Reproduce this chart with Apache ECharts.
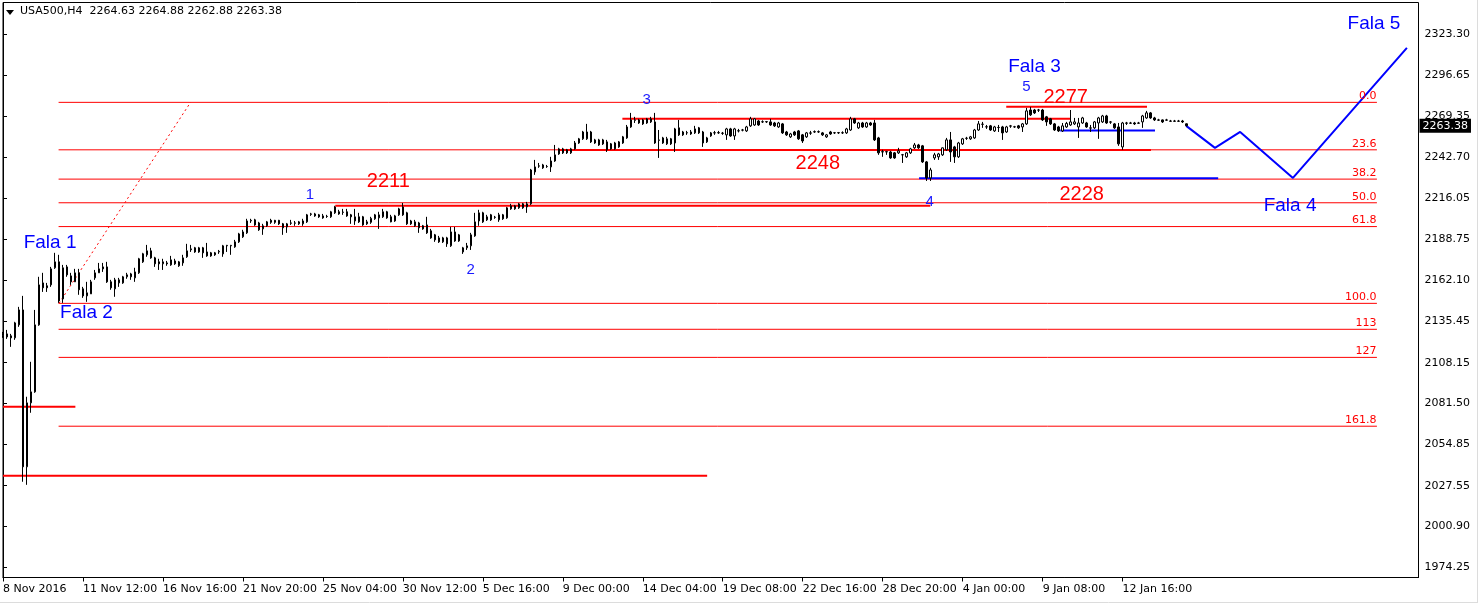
<!DOCTYPE html>
<html><head><meta charset="utf-8">
<script src="https://cdn.jsdelivr.net/npm/echarts@6/dist/echarts.min.js"></script>
<style>html,body{margin:0;padding:0;background:#fff}#c{width:1479px;height:604px}</style>
</head><body><div id="c"></div>
<script>
// ---------- DATA ----------
const symbolName = 'USA500,H4';
const headerValues = ['2264.63', '2264.88', '2262.88', '2263.38'];
const lastPrice = 2263.38;

const xTickLabels = ['8 Nov 2016','11 Nov 12:00','16 Nov 16:00','21 Nov 20:00','25 Nov 04:00','30 Nov 12:00','5 Dec 16:00','9 Dec 00:00','14 Dec 04:00','19 Dec 08:00','22 Dec 16:00','28 Dec 20:00','4 Jan 00:00','9 Jan 08:00','12 Jan 16:00'];
const yTickValues = [2323.30, 2296.65, 2269.35, 2242.70, 2216.05, 2188.75, 2162.10, 2135.45, 2108.15, 2081.50, 2054.85, 2027.55, 2000.90, 1974.25];

// H4 candles: [open, close, low, high]
const candles = [
[2125.7,2127.0,2124.4,2128.3],[2127.0,2125.0,2123.7,2129.6],[2125.7,2124.4,2118.5,2127.0],[2124.4,2134.2,2123.1,2134.9],[2132.9,2142.7,2131.6,2144.7],
[2142.7,2039.9,2030.1,2151.9],[2039.9,2081.8,2028.1,2085.8],[2081.8,2089.0,2075.3,2108.7],[2089.0,2132.9,2088.4,2142.7],[2132.9,2159.1,2132.3,2164.4],
[2160.4,2157.2,2154.5,2167.0],[2158.5,2157.2,2154.5,2160.4],[2159.1,2169.6,2157.8,2170.9],[2170.3,2174.2,2169.6,2180.1],[2174.2,2148.6,2147.3,2178.8],
[2149.9,2170.3,2147.3,2172.2],[2170.9,2165.7,2164.4,2172.2],[2165.0,2161.1,2159.1,2167.0],[2161.1,2167.0,2161.1,2169.6],[2167.0,2155.9,2152.6,2169.6],
[2156.5,2151.9,2150.6,2157.8],[2151.9,2153.9,2148.0,2161.1],[2153.2,2161.1,2153.2,2162.4],[2163.7,2167.0,2162.4,2168.9],[2167.0,2169.6,2167.0,2173.5],
[2170.9,2169.6,2167.6,2173.5],[2170.9,2161.1,2160.4,2174.2],[2161.1,2157.2,2155.9,2162.4],[2156.5,2162.4,2151.3,2163.7],[2160.4,2162.4,2157.8,2163.7],
[2160.4,2164.4,2159.8,2165.0],[2164.4,2165.7,2163.1,2167.0],[2166.3,2164.4,2162.4,2167.0],[2163.7,2167.6,2161.1,2170.3],[2167.0,2176.2,2166.3,2176.8],
[2174.2,2179.5,2173.5,2180.1],[2178.8,2181.4,2177.5,2185.3],[2181.4,2176.8,2176.2,2183.4],[2176.8,2172.9,2170.9,2177.5],[2174.2,2172.9,2168.9,2176.2],
[2172.9,2174.2,2168.9,2176.2],[2173.5,2172.9,2171.6,2174.8],[2172.2,2175.5,2171.6,2178.1],[2174.8,2172.9,2172.2,2176.2],[2171.6,2174.2,2170.9,2174.8],
[2173.5,2176.8,2171.6,2178.8],[2177.5,2181.4,2176.8,2186.0],[2182.1,2182.7,2180.7,2185.3],[2183.4,2180.7,2180.1,2184.0],[2180.7,2183.4,2180.1,2184.0],
[2183.4,2180.1,2176.8,2184.0],[2180.7,2178.1,2177.5,2186.6],[2180.1,2178.1,2177.5,2180.7],[2180.1,2178.8,2178.1,2180.7],[2180.7,2181.1,2179.4,2182.0],
[2179.4,2184.7,2177.5,2185.3],[2184.7,2185.0,2180.7,2185.3],[2184.7,2185.0,2178.8,2185.3],[2184.0,2187.3,2183.4,2188.6],[2187.3,2192.5,2186.6,2193.2],
[2190.6,2193.8,2189.9,2195.2],[2193.2,2201.0,2192.5,2202.4],[2201.0,2201.4,2199.7,2202.4],[2201.7,2198.4,2197.8,2202.4],[2199.7,2195.2,2194.5,2200.4],
[2195.8,2197.8,2191.9,2199.1],[2197.8,2200.4,2197.1,2201.0],[2201.4,2200.1,2199.1,2202.4],[2201.4,2200.1,2199.1,2201.7],[2201.4,2199.1,2198.4,2201.7],
[2199.1,2196.5,2191.9,2199.7],[2197.1,2199.1,2193.2,2199.7],[2199.7,2199.5,2198.4,2201.7],[2199.5,2199.7,2197.8,2201.0],[2199.1,2200.4,2198.4,2201.0],
[2199.1,2201.0,2197.8,2202.4],[2200.4,2205.0,2199.7,2205.6],[2205.3,2205.6,2204.3,2206.3],[2205.6,2204.3,2203.7,2206.3],[2205.0,2203.7,2203.0,2205.6],
[2204.3,2203.0,2202.4,2205.6],[2204.0,2203.9,2203.0,2205.0],[2203.7,2207.0,2203.0,2207.6],[2206.3,2210.2,2205.6,2210.9],[2207.0,2205.6,2205.0,2208.3],
[2206.6,2206.8,2205.0,2208.9],[2207.0,2204.3,2203.7,2208.9],[2205.0,2203.7,2199.1,2205.6],[2201.0,2203.7,2198.4,2208.9],[2203.7,2200.4,2199.7,2206.3],
[2203.7,2198.4,2197.8,2204.3],[2199.1,2200.4,2198.4,2201.7],[2200.1,2202.7,2199.1,2203.7],[2202.4,2205.0,2201.7,2205.6],[2203.0,2205.0,2195.8,2207.0],
[2203.7,2207.0,2203.0,2208.9],[2207.0,2203.0,2202.4,2207.6],[2203.7,2200.4,2200.1,2205.0],[2201.0,2204.3,2200.4,2205.0],[2205.0,2208.9,2204.3,2209.6],
[2210.2,2205.0,2204.3,2212.8],[2206.3,2199.1,2198.4,2207.0],[2201.0,2199.1,2198.4,2201.7],[2197.8,2200.4,2197.1,2201.7],[2199.7,2196.5,2193.2,2200.4],
[2197.8,2195.8,2195.2,2198.4],[2198.4,2193.2,2192.5,2203.7],[2194.5,2189.9,2189.3,2195.8],[2191.9,2188.6,2187.3,2192.5],[2189.9,2187.3,2186.6,2191.2],
[2187.3,2189.9,2186.6,2190.6],[2189.9,2186.0,2184.0,2190.6],[2184.7,2193.8,2184.0,2197.1],[2193.8,2187.9,2187.3,2197.1],[2187.9,2191.9,2187.3,2192.5],
[2180.7,2183.4,2179.4,2184.0],[2183.4,2184.7,2182.0,2186.6],[2184.7,2191.9,2182.0,2193.2],[2191.2,2200.4,2190.6,2206.3],[2201.0,2206.3,2197.8,2208.3],
[2206.3,2200.4,2199.7,2207.0],[2201.7,2203.7,2201.0,2205.0],[2205.0,2201.7,2201.0,2205.6],[2203.3,2203.5,2202.4,2204.3],[2201.7,2205.0,2200.4,2206.3],
[2205.0,2202.4,2201.7,2205.6],[2203.0,2209.6,2202.4,2210.2],[2208.9,2210.9,2208.3,2212.2],[2208.9,2210.9,2208.3,2211.5],[2209.6,2212.2,2208.9,2212.8],
[2212.2,2209.6,2208.9,2212.8],[2210.2,2212.2,2206.3,2213.5],[2212.2,2234.4,2211.5,2235.1],[2233.1,2236.4,2231.2,2241.0],[2236.9,2237.1,2235.8,2239.0],
[2237.7,2235.8,2235.1,2238.4],[2236.6,2236.7,2235.8,2237.7],[2236.4,2240.3,2233.1,2243.0],[2240.3,2244.3,2239.7,2250.8],[2244.9,2248.2,2244.3,2248.9],
[2248.2,2245.6,2244.9,2248.9],[2247.6,2245.6,2244.9,2248.2],[2245.6,2248.2,2244.9,2248.9],[2248.2,2252.1,2247.6,2253.4],[2252.1,2254.8,2251.5,2255.4],
[2254.8,2259.3,2254.1,2260.0],[2254.8,2259.3,2254.1,2264.6],[2259.3,2252.8,2252.1,2260.0],[2254.1,2252.1,2251.5,2254.8],[2250.8,2254.1,2250.2,2254.8],
[2254.1,2251.5,2250.8,2254.8],[2252.8,2247.6,2246.2,2254.1],[2251.5,2248.2,2247.6,2252.1],[2248.2,2252.1,2247.6,2252.8],[2249.5,2252.8,2248.9,2253.4],
[2252.1,2256.1,2251.5,2256.7],[2255.4,2262.6,2254.8,2263.9],[2262.6,2267.2,2262.0,2271.8],[2266.9,2267.2,2265.2,2269.2],[2267.2,2265.2,2264.6,2267.9],
[2267.2,2264.6,2263.9,2267.9],[2265.2,2267.9,2264.6,2268.5],[2265.9,2267.9,2265.2,2269.2],[2265.9,2252.1,2251.5,2271.8],[2254.1,2253.8,2242.3,2260.6],
[2252.1,2255.4,2251.5,2256.1],[2251.5,2254.8,2250.8,2256.1],[2254.8,2251.5,2250.8,2255.4],[2252.1,2261.3,2246.2,2262.0],[2262.0,2257.4,2256.7,2267.2],
[2259.3,2257.4,2256.7,2260.0],[2258.8,2258.7,2257.4,2260.0],[2259.3,2258.0,2257.4,2260.6],[2258.7,2261.3,2258.0,2263.3],[2262.0,2258.7,2258.0,2262.6],
[2259.3,2252.1,2249.5,2260.0],[2252.8,2255.4,2252.1,2256.1],[2256.7,2258.7,2256.1,2259.3],[2258.7,2258.8,2257.4,2260.0],[2258.7,2258.9,2258.0,2260.0],
[2258.4,2258.5,2257.4,2259.3],[2257.4,2261.3,2254.1,2262.0],[2261.3,2256.7,2256.1,2262.0],[2256.7,2261.3,2254.1,2262.0],[2260.0,2260.1,2259.0,2261.3],
[2260.5,2260.6,2259.7,2261.3],[2260.0,2262.6,2259.3,2263.3],[2263.3,2267.9,2262.6,2269.2],[2263.9,2267.9,2263.3,2268.5],[2266.5,2263.9,2263.3,2267.2],
[2265.9,2266.0,2265.2,2266.9],[2265.9,2266.1,2265.2,2266.5],[2265.9,2263.9,2263.3,2267.9],[2265.2,2263.3,2262.6,2265.9],[2262.6,2265.2,2262.0,2265.9],
[2264.6,2258.7,2258.0,2265.2],[2259.3,2257.4,2256.7,2260.0],[2256.1,2258.0,2255.4,2258.7],[2259.3,2257.4,2256.7,2260.0],[2260.0,2254.8,2254.1,2260.6],
[2257.4,2253.4,2252.1,2258.0],[2256.1,2258.7,2255.4,2259.3],[2258.5,2258.7,2257.4,2260.0],[2259.3,2259.5,2258.7,2260.3],[2259.3,2259.5,2258.7,2260.3],
[2258.7,2257.4,2256.7,2259.3],[2256.1,2257.4,2255.4,2258.0],[2259.3,2258.0,2257.4,2260.0],[2258.7,2258.8,2258.0,2259.3],[2258.7,2258.9,2258.0,2259.3],
[2258.7,2258.8,2258.0,2259.7],[2258.7,2261.3,2258.0,2262.0],[2260.6,2267.9,2260.0,2269.2],[2267.9,2265.2,2264.6,2268.5],[2262.0,2265.2,2261.3,2265.9],
[2265.2,2262.6,2262.0,2265.9],[2262.6,2265.2,2262.0,2265.9],[2265.2,2263.9,2263.3,2265.9],[2265.2,2254.1,2253.4,2267.2],[2255.4,2245.6,2244.3,2256.1],
[2246.2,2246.4,2243.0,2247.6],[2246.2,2246.4,2244.3,2246.9],[2246.2,2242.3,2241.7,2246.9],[2245.6,2242.3,2241.7,2246.2],[2245.6,2246.9,2244.9,2248.9],
[2244.3,2244.4,2239.0,2244.9],[2243.0,2245.6,2242.3,2246.2],[2245.6,2248.2,2244.9,2248.9],[2248.9,2250.8,2248.2,2252.1],[2250.8,2248.9,2248.2,2251.5],
[2250.2,2239.7,2239.0,2250.8],[2239.7,2229.2,2227.2,2240.3],[2229.2,2234.4,2227.2,2235.8],[2242.3,2244.3,2241.0,2245.6],[2243.0,2244.9,2241.0,2245.6],
[2244.3,2248.9,2243.6,2249.1],[2247.6,2254.1,2246.9,2255.4],[2254.1,2246.2,2239.7,2259.3],[2249.5,2243.0,2239.0,2250.2],[2243.0,2252.1,2242.3,2252.8],
[2251.5,2254.8,2250.8,2255.4],[2255.1,2255.2,2254.1,2256.1],[2254.8,2256.1,2254.1,2256.7],[2255.4,2260.6,2254.8,2261.3],[2260.6,2264.6,2260.0,2266.5],
[2264.3,2264.4,2262.0,2265.9],[2262.6,2262.7,2261.3,2263.9],[2263.3,2260.6,2260.0,2263.9],[2260.0,2262.6,2259.3,2263.3],[2262.2,2262.3,2259.3,2263.9],
[2262.6,2258.7,2254.1,2263.3],[2259.3,2262.6,2258.7,2263.3],[2263.1,2263.3,2262.0,2263.9],[2262.6,2262.7,2262.0,2263.3],[2263.3,2262.0,2261.3,2263.9],
[2262.6,2264.6,2259.3,2265.2],[2264.6,2273.1,2263.9,2275.1],[2273.7,2270.5,2269.8,2275.7],[2273.7,2271.8,2271.1,2274.4],[2273.6,2273.7,2272.4,2274.4],
[2273.7,2267.2,2266.5,2274.4],[2269.2,2265.9,2263.3,2269.8],[2267.9,2264.6,2263.9,2268.5],[2264.6,2260.6,2260.0,2265.2],[2262.6,2260.0,2259.3,2263.3],
[2260.0,2263.3,2259.3,2265.2],[2262.6,2264.9,2262.0,2265.9],[2263.9,2265.9,2263.3,2273.7],[2264.6,2265.9,2263.9,2268.5],[2262.6,2265.2,2255.4,2268.5],
[2265.2,2268.5,2264.6,2269.2],[2265.2,2262.6,2262.0,2265.9],[2261.8,2262.0,2259.3,2263.9],[2262.0,2265.9,2261.3,2266.5],[2265.2,2268.5,2254.8,2269.2],
[2265.9,2269.8,2265.2,2270.5],[2269.8,2265.2,2264.6,2270.5],[2265.7,2265.9,2264.6,2266.5],[2264.6,2262.0,2261.3,2265.2],[2262.6,2251.5,2250.2,2265.2],
[2249.5,2265.2,2247.6,2265.9],[2265.0,2265.2,2263.9,2265.9],[2265.0,2265.2,2264.6,2265.9],[2265.2,2264.6,2263.9,2265.9],[2265.0,2265.2,2264.6,2265.9],
[2265.9,2269.8,2262.0,2270.5],[2268.5,2271.8,2267.9,2273.1],[2271.8,2268.5,2267.9,2272.4],[2268.5,2267.2,2266.5,2269.2],[2267.0,2267.2,2266.5,2267.9],
[2267.2,2265.9,2265.2,2267.5],[2267.0,2267.2,2266.5,2267.9],[2266.3,2266.5,2265.9,2267.2],[2266.3,2266.5,2265.9,2267.2],[2266.3,2266.5,2265.9,2267.2],
[2266.5,2265.9,2265.2,2267.2],[2264.63,2263.38,2262.88,2264.88]
];

// Fibonacci retracement (levels and their prices)
const fibLevels = ['0.0','23.6','38.2','50.0','61.8','100.0','113','127','161.8'];
const fibPrices = [2278.7, 2247.6, 2228.4, 2212.9, 2197.3, 2147.0, 2130.0, 2111.6, 2066.5];
const fibStartBar = 13.9, fibEndBar = 343.6;
const fibTrend = [[14.0, 2147.0], [46.9, 2278.7]];

// horizontal level segments [fromBar, toBar, price]
const redLevels = [[0, 18.1, 2079.3], [0, 176.1, 2034.0], [83.1, 231.9, 2211.0], [138.9, 287.1, 2247.5], [154.9, 267.1, 2267.9], [250.9, 286.1, 2275.9]];
const blueLevels = [[229.1, 303.9, 2228.9], [264.4, 288.1, 2260.2]];
// projected path (bar, price)
const projBars = [295.9, 303.1, 309.4, 322.6, 351.1];
const projPrices = [2263.3, 2248.9, 2259.3, 2229.2, 2314.4];

// annotations (bar, price)
const falaTexts = ['Fala 1', 'Fala 2', 'Fala 3', 'Fala 4', 'Fala 5'];
const falaPos = [[11.9, 2186.3], [21.0, 2140.5], [258.1, 2301.6], [322.0, 2210.5], [343.0, 2329.7]];
const waveTexts = ['1', '2', '3', '4', '5'];
const wavePos = [[76.9, 2217.7], [117.1, 2168.6], [161.1, 2280.3], [231.9, 2213.5], [256.1, 2288.2]];
const levelTexts = ['2211', '2248', '2277', '2228'];
const levelPos = [[96.5, 2226.3], [203.9, 2238.0], [265.9, 2281.6], [269.9, 2217.7]];

// ---------- CHART ----------
const NBARS = 355;
const categories = Array.from({length: NBARS}, (_, i) => String(i));
const AX = 'DejaVu Sans';
const TX = 'Liberation Sans';

function seg(a, b, p, color, width, type) {
  return {type: 'line', xAxisIndex: 1, yAxisIndex: 0, data: [[a, p], [b, p]], symbol: 'none', silent: true,
    lineStyle: {color: color, width: width, type: type || 'solid'}, z: 3, animation: false};
}
function texts(names, pos, color, size, font, align, vAlign) {
  return {type: 'scatter', xAxisIndex: 1, yAxisIndex: 0, silent: true, animation: false, z: 5,
    symbolSize: 1, itemStyle: {color: 'transparent'},
    data: pos.map((p, i) => ({value: p, name: names[i]})),
    label: {show: true, position: [0, 0], align: align || 'center', verticalAlign: vAlign || 'middle',
      formatter: '{b}', color: color, fontSize: size, fontFamily: font, textBorderWidth: 0, textShadowBlur: 0, opacity: 1}};
}

const series = [];
series.push({
  type: 'candlestick', xAxisIndex: 0, yAxisIndex: 0, data: candles, barWidth: 2, silent: true, animation: false, z: 4,
  itemStyle: {color: '#ffffff', color0: '#000000', borderColor: '#000000', borderColor0: '#000000', borderWidth: 1},
  markLine: {silent: true, symbol: ['none', 'none'], animation: false,
    lineStyle: {color: 'transparent', width: 0},
    label: {show: true, position: 'end', distance: 1, formatter: String(lastPrice.toFixed(2)), color: '#fff', backgroundColor: '#000',
      padding: [2, 3, 1, 3], fontSize: 11, fontFamily: AX},
    data: [{yAxis: lastPrice}]}
});
fibPrices.forEach(p => series.push(seg(fibStartBar, fibEndBar, p, '#ff0000', 1)));
series.push({type: 'line', xAxisIndex: 1, data: fibTrend, symbol: 'none', silent: true, animation: false, z: 3,
  lineStyle: {color: '#ff0000', width: 1, type: [2, 3]}});
redLevels.forEach(r => series.push(seg(r[0], r[1], r[2], '#ff0000', 2)));
blueLevels.forEach(r => series.push(seg(r[0], r[1], r[2], '#0000ff', 2)));
series.push({type: 'line', xAxisIndex: 1, data: projBars.map((b, i) => [b, projPrices[i]]), symbol: 'none', silent: true, animation: false, z: 3,
  lineStyle: {color: '#0000ff', width: 2}});
series.push(texts(fibLevels, fibPrices.map(p => [fibEndBar, p]), '#ff0000', 11, AX, 'right', 'bottom'));
series.push(texts(falaTexts, falaPos, '#0000ff', 19, TX));
series.push(texts(waveTexts, wavePos, '#1a1aff', 15, TX));
series.push(texts(levelTexts, levelPos, '#ff0000', 20, TX));

const chart = echarts.init(document.getElementById('c'), null, {renderer: 'canvas'});
chart.setOption({
  animation: false,
  backgroundColor: '#ffffff',
  title: {text: symbolName + '  ' + headerValues.join(' '), left: 20, top: 6, padding: 0,
    textStyle: {fontSize: 11, fontWeight: 'normal', fontFamily: AX, color: '#000'}},
  grid: {left: 2.5, right: 60.5, top: 2.5, bottom: 26.5, show: true, borderColor: '#000', borderWidth: 1, backgroundColor: '#fff'},
  xAxis: [
    {type: 'category', data: categories, boundaryGap: false,
      axisLine: {lineStyle: {color: '#000', width: 1}},
      axisTick: {show: true, length: 4, interval: (i) => i % 20 === 0 && i / 20 < xTickLabels.length, lineStyle: {color: '#000'}},
      axisLabel: {interval: (i) => i % 20 === 0 && i / 20 < xTickLabels.length, align: 'left', margin: 6,
        formatter: (v, i) => xTickLabels[Number(v) / 20] || '', color: '#000', fontSize: 11, fontFamily: AX},
      splitLine: {show: false}},
    {type: 'value', min: 0, max: NBARS - 1, show: false}
  ],
  yAxis: {type: 'value', position: 'right', min: 1967.37, max: 2344.13, scale: true,
    axisLine: {show: true, lineStyle: {color: '#000'}},
    axisTick: {show: true, length: 4, customValues: yTickValues, lineStyle: {color: '#000'}},
    axisLabel: {customValues: yTickValues, formatter: v => Number(v).toFixed(2), margin: 6, color: '#000', fontSize: 11, fontFamily: AX},
    splitLine: {show: false}},
  graphic: [
    {type: 'polygon', shape: {points: [[6, 10], [14, 10], [10, 15]]}, style: {fill: '#000'}, silent: true},
    {type: 'line', shape: {x1: 1477.5, y1: 0, x2: 1477.5, y2: 602}, style: {stroke: '#dcdcdc', lineWidth: 1}, silent: true},
    {type: 'line', shape: {x1: 0, y1: 602.5, x2: 1478, y2: 602.5}, style: {stroke: '#dcdcdc', lineWidth: 1}, silent: true}
  ],
  series: series
});
</script></body></html>
